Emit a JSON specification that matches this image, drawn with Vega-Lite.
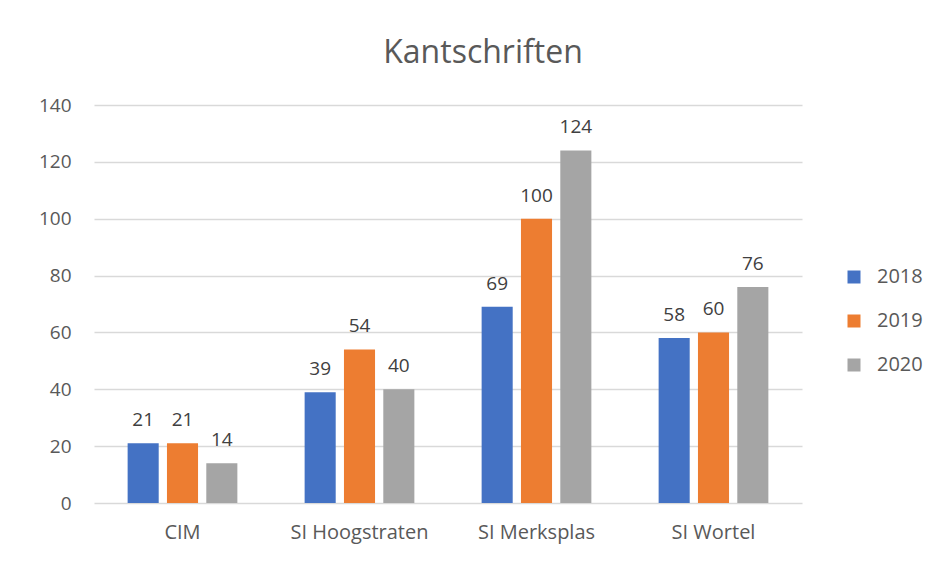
{
  "$schema": "https://vega.github.io/schema/vega-lite/v6.json",
  "width": 708,
  "height": 398,
  "autosize": {"type": "none"},
  "padding": {"left": 94, "top": 105, "right": 146, "bottom": 59},
  "background": "white",
  "title": {
    "text": "Kantschriften",
    "fontSize": 32,
    "font": "Open Sans",
    "fontWeight": "normal",
    "color": "#595959",
    "anchor": "middle",
    "dx": 35,
    "offset": 26
  },
  "config": {
    "view": {"stroke": null},
    "font": "Open Sans"
  },
  "data": {
    "values": [
      {"group": "CIM", "year": "2018", "value": 21},
      {"group": "CIM", "year": "2019", "value": 21},
      {"group": "CIM", "year": "2020", "value": 14},
      {"group": "SI Hoogstraten", "year": "2018", "value": 39},
      {"group": "SI Hoogstraten", "year": "2019", "value": 54},
      {"group": "SI Hoogstraten", "year": "2020", "value": 40},
      {"group": "SI Merksplas", "year": "2018", "value": 69},
      {"group": "SI Merksplas", "year": "2019", "value": 100},
      {"group": "SI Merksplas", "year": "2020", "value": 124},
      {"group": "SI Wortel", "year": "2018", "value": 58},
      {"group": "SI Wortel", "year": "2019", "value": 60},
      {"group": "SI Wortel", "year": "2020", "value": 76}
    ]
  },
  "encoding": {
    "x": {
      "field": "group",
      "type": "nominal",
      "sort": null,
      "scale": {"paddingInner": 0.38, "paddingOuter": 0.19},
      "axis": {
        "title": null,
        "labelAngle": 0,
        "domain": false,
        "ticks": false,
        "labelFontSize": 20,
        "labelColor": "#595959",
        "labelPadding": 19
      }
    },
    "xOffset": {
      "field": "year",
      "type": "nominal",
      "scale": {"paddingInner": 0.21, "paddingOuter": 0}
    },
    "y": {
      "field": "value",
      "type": "quantitative",
      "scale": {"domain": [0, 140]},
      "axis": {
        "title": null,
        "values": [0, 20, 40, 60, 80, 100, 120, 140],
        "domain": false,
        "ticks": false,
        "gridColor": "#d9d9d9",
        "gridWidth": 1.3,
        "labelFontSize": 19,
        "labelColor": "#595959",
        "labelPadding": 23
      }
    }
  },
  "layer": [
    {
      "mark": {"type": "bar"},
      "encoding": {
        "color": {
          "field": "year",
          "type": "nominal",
          "scale": {"domain": ["2018", "2019", "2020"], "range": ["#4472C4", "#ED7D31", "#A5A5A5"]},
          "legend": {
            "title": null,
            "orient": "none",
            "legendX": 750,
            "legendY": 162,
            "symbolType": "square",
            "symbolSize": 169,
            "symbolStrokeWidth": 0,
            "labelFontSize": 20,
            "labelColor": "#595959",
            "labelOffset": 13,
            "rowPadding": 24
          }
        }
      }
    },
    {
      "mark": {"type": "text", "baseline": "bottom", "dy": -13, "fontSize": 19, "color": "#404040"},
      "encoding": {
        "text": {"field": "value", "type": "quantitative"}
      }
    }
  ]
}
